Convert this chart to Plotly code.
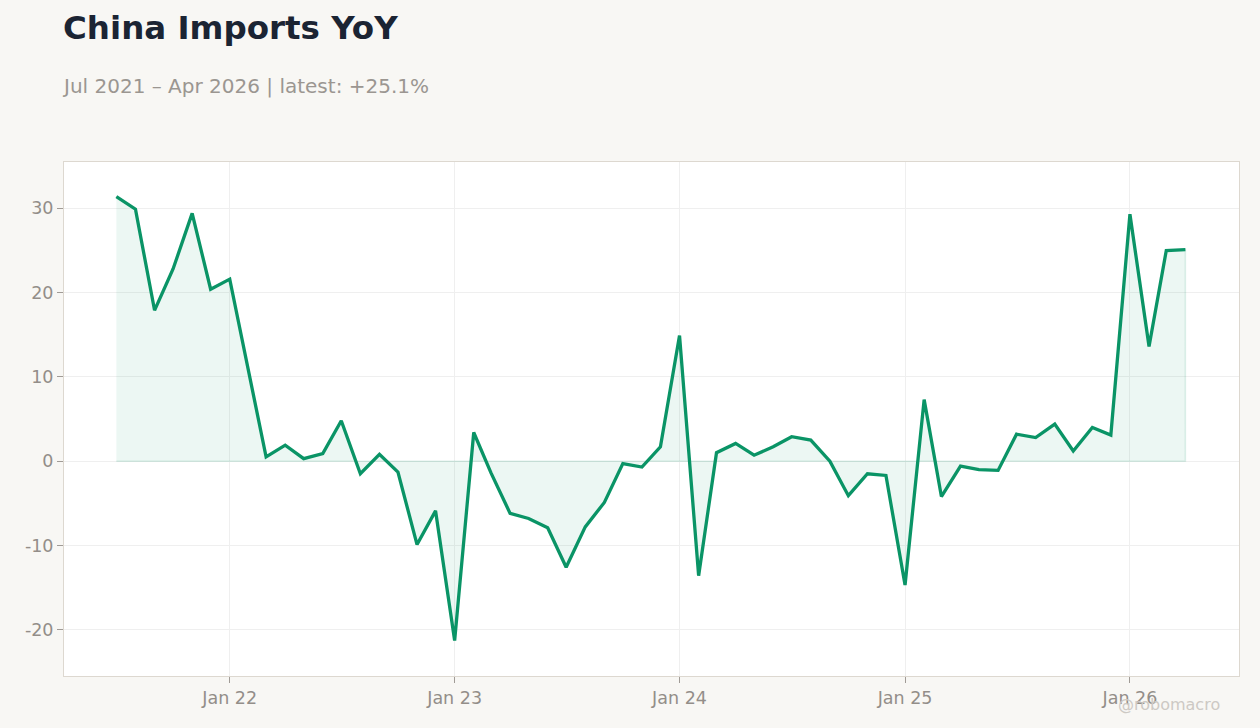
import plotly.graph_objects as go
import pandas as pd

# China imports, year-over-year % change, monthly
months = pd.date_range("2021-07-01", "2026-04-01", freq="MS").strftime("%Y-%m-%d").tolist()
yoy = [
    31.4, 29.9, 17.9, 22.8, 29.4, 20.4,            # Jul-Dec 2021
    21.6, 10.5, 0.5, 1.9, 0.3, 0.9,                # Jan-Jun 2022
    4.8, -1.5, 0.8, -1.3, -9.9, -5.9,              # Jul-Dec 2022
    -21.3, 3.4, -1.4, -6.2, -6.8, -7.9,            # Jan-Jun 2023
    -12.6, -7.8, -4.9, -0.3, -0.7, 1.7,            # Jul-Dec 2023
    14.9, -13.6, 1.0, 2.1, 0.7, 1.7,               # Jan-Jun 2024
    2.9, 2.5, 0.0, -4.1, -1.5, -1.7,               # Jul-Dec 2024
    -14.7, 7.3, -4.2, -0.6, -1.0, -1.1,            # Jan-Jun 2025
    3.2, 2.8, 4.4, 1.2, 4.0, 3.1,                  # Jul-Dec 2025
    29.3, 13.6, 25.0, 25.1,                        # Jan-Apr 2026
]
y_ticks = [-20, -10, 0, 10, 20, 30]
y_tick_labels = [str(v) for v in y_ticks]  # plain hyphen, not unicode minus

title = "China Imports YoY"
subtitle = "Jul 2021 \u2013 Apr 2026 | latest: +25.1%"
credit = "@robomacro"

GREEN = "#0a9466"
BG = "#f8f7f4"
TEXT_GREY = "#938e89"

fig = go.Figure()

# shaded area between the series and zero (closed polygon)
fig.add_trace(go.Scatter(
    x=months + months[::-1],
    y=yoy + [0] * len(yoy),
    fill="toself",
    fillcolor="rgba(10,148,102,0.08)",
    line=dict(color="rgba(10,148,102,0.13)", width=1.5),
    hoverinfo="skip",
    showlegend=False,
))

# main line
fig.add_trace(go.Scatter(
    x=months,
    y=yoy,
    mode="lines",
    line=dict(color=GREEN, width=3.3),
    showlegend=False,
))

fig.update_layout(
    width=1260,
    height=728,
    paper_bgcolor=BG,
    plot_bgcolor="white",
    font=dict(family="DejaVu Sans", color=TEXT_GREY, size=17.5),
    margin=dict(l=64, r=21, t=162, b=52),
    title=dict(
        text="<b>" + title + "</b>",
        x=0.05, xref="container", xanchor="left",
        y=0.962, yref="container", yanchor="middle",
        font=dict(family="DejaVu Sans", size=32.5, color="#1b2433"),
    ),
    annotations=[
        dict(text=subtitle, xref="paper", yref="paper", x=-0.0034, y=1.148,
             xanchor="left", yanchor="middle", showarrow=False,
             font=dict(size=20, color="#9b9691")),
        dict(text=credit, xref="paper", yref="paper", x=0.9855, y=-0.056,
             xanchor="right", yanchor="middle", showarrow=False,
             font=dict(size=16, color="#cdc9c4")),
    ],
)

fig.update_xaxes(
    type="date",
    range=["2021-04-07", "2026-06-27"],
    tick0="2022-01-01",
    dtick="M12",
    tickformat="%b %y",
    showgrid=True,
    gridcolor="#efefef",
    showline=True,
    linecolor="#ddd8d0",
    mirror=True,
    ticks="outside",
    ticklen=6,
    tickcolor="#a09b96",
    zeroline=False,
)

fig.update_yaxes(
    range=[-25.5, 35.5],
    tickvals=y_ticks,
    ticktext=y_tick_labels,
    showgrid=True,
    gridcolor="#efefef",
    showline=True,
    linecolor="#ddd8d0",
    mirror=True,
    ticks="outside",
    ticklen=6,
    tickcolor="#a09b96",
    zeroline=False,
)

fig.write_html(
    "out.html",
    config={"displayModeBar": False},
    post_script="document.body.style.margin='0';document.body.style.background='" + BG + "';",
)
